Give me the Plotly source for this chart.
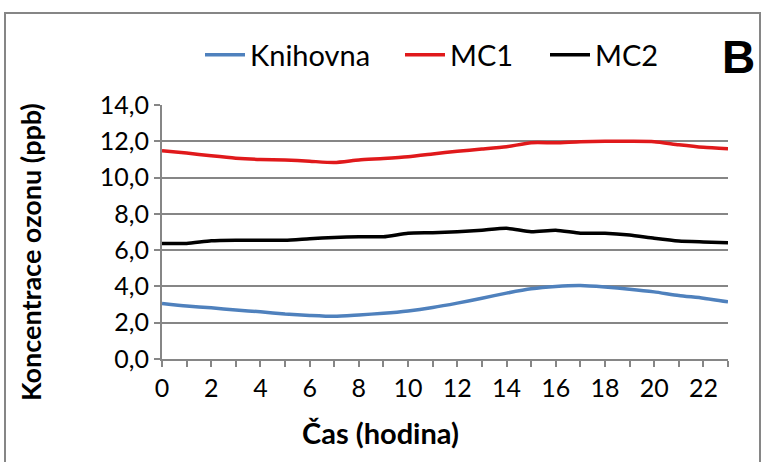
import plotly.graph_objects as go

hours = list(range(24))
knihovna = [3.06, 2.92, 2.82, 2.70, 2.60, 2.48, 2.40, 2.35, 2.43, 2.52, 2.65, 2.84,
            3.08, 3.35, 3.63, 3.87, 4.00, 4.05, 3.97, 3.85, 3.70, 3.50, 3.35, 3.15]
mc1 = [11.48, 11.35, 11.20, 11.07, 11.00, 10.97, 10.90, 10.83, 10.97, 11.05, 11.15, 11.30,
       11.45, 11.57, 11.70, 11.92, 11.92, 11.98, 12.00, 12.00, 11.98, 11.81, 11.67, 11.59]
mc2 = [6.37, 6.37, 6.52, 6.55, 6.55, 6.55, 6.63, 6.70, 6.74, 6.74, 6.93, 6.96,
       7.02, 7.10, 7.20, 7.02, 7.10, 6.93, 6.93, 6.83, 6.65, 6.50, 6.45, 6.41]
names = ["Knihovna", "MC1", "MC2"]
colors = ["#4F81BD", "#E0191B", "#000000"]
y_ticks = [0, 2, 4, 6, 8, 10, 12, 14]
y_labels = ["0,0", "2,0", "4,0", "6,0", "8,0", "10,0", "12,0", "14,0"]
x_labels = [str(h) if h % 2 == 0 else "" for h in hours]

FONT = "Lato, Open Sans, sans-serif"
W, H = 763, 462
L, R, T, B = 162, 728, 105, 359   # plot-area edges in page pixels

legend_ids = ["legend", "legend2", "legend3"]
legend_text_x = [250, 450, 595]   # where each legend label starts

fig = go.Figure()
for name, ys, c, lid in zip(names, [knihovna, mc1, mc2], colors, legend_ids):
    fig.add_trace(go.Scatter(x=hours, y=ys, name=name, mode="lines", legend=lid,
                             line=dict(color=c, width=3.5, shape="spline", smoothing=0.6)))

legend_common = dict(orientation="h", xref="container", yref="container",
                     xanchor="left", y=1 - 55 / H, yanchor="middle",
                     font=dict(size=29), itemwidth=40, bgcolor="rgba(0,0,0,0)")
legends = {}
for lid, tx in zip(legend_ids, legend_text_x):
    legends[lid] = dict(legend_common, x=(tx - 50) / W)

px = lambda v: (v - L) / (R - L)
py = lambda v: (B - v) / (B - T)

fig.update_layout(
    width=W, height=H,
    margin=dict(l=L, r=W - R, t=T, b=H - B, autoexpand=False),
    paper_bgcolor="white", plot_bgcolor="white",
    font=dict(family=FONT, color="#000000", size=25),
    showlegend=True,
    **legends,
    xaxis=dict(range=[0, 23], tickvals=hours, ticktext=x_labels, ticks="outside",
               ticklen=6, tickwidth=2, tickcolor="#868686", showline=True,
               linecolor="#868686", linewidth=2, showgrid=False, zeroline=False,
               automargin=False, tickfont=dict(size=25)),
    yaxis=dict(range=[0, 14], tickvals=y_ticks, ticktext=y_labels, ticks="outside",
               ticklen=6, tickwidth=2, tickcolor="#868686", showline=True,
               linecolor="#868686", linewidth=2, showgrid=True, gridcolor="#868686",
               gridwidth=2, zeroline=False, automargin=False, tickfont=dict(size=25)),
    annotations=[
        dict(text="<b>Čas (hodina)</b>", xref="paper", yref="paper",
             x=px(380), y=py(432), xanchor="center", yanchor="middle",
             showarrow=False, font=dict(size=29)),
        dict(text="<b>Koncentrace ozonu (ppb)</b>", xref="paper", yref="paper",
             x=px(30), y=py(252), xanchor="center", yanchor="middle",
             textangle=-90, showarrow=False, font=dict(size=27)),
        dict(text="<b>B</b>", xref="paper", yref="paper",
             x=px(738), y=py(57), xanchor="center", yanchor="middle",
             showarrow=False, font=dict(size=46, family="Liberation Sans, Arial, sans-serif")),
    ],
    shapes=[
        dict(type="rect", xref="paper", yref="paper",
             x0=px(5), x1=px(760), y0=py(470), y1=py(13),
             line=dict(color="#868686", width=2), fillcolor="rgba(0,0,0,0)", layer="below"),
    ],
)

fig.write_html("out.html", config={"displayModeBar": False},
               post_script="document.body.style.margin='0';document.body.style.overflow='hidden';")
